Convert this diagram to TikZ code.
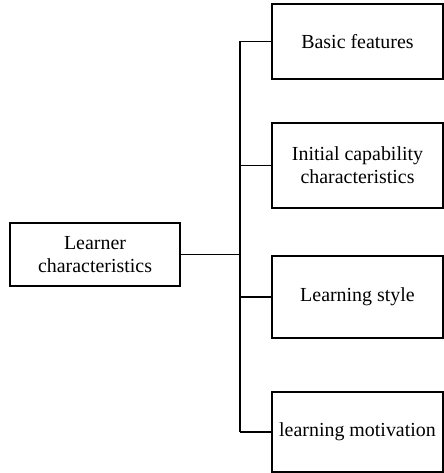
\documentclass[tikz,border=0pt]{standalone}
\usepackage{fontspec}
\setmainfont{Liberation Serif}
\begin{document}
\begin{tikzpicture}[x=1bp,y=-1bp,
  box/.style={draw, line width=1.4bp, align=center, inner sep=0pt,
    font=\fontsize{20}{23}\selectfont, text=black},
  conn/.style={line width=1.4bp}]
\useasboundingbox (0,0) rectangle (444,473);
\node[box, minimum width=170bp, minimum height=63bp] (lc) at (95,254.5) {Learner\\characteristics};
\node[box, minimum width=171bp, minimum height=75bp] (b1) at (357.5,41.5) {Basic features};
\node[box, minimum width=171bp, minimum height=85bp] (b2) at (357.5,165.5) {Initial capability\\characteristics};
\node[box, minimum width=171bp, minimum height=82bp] (b3) at (357.5,297) {Learning style};
\node[box, minimum width=171bp, minimum height=80bp] (b4) at (357.5,432) {learning motivation};
\coordinate (tx) at (240,0);
\draw[conn] (tx |- b1.west) -- (tx |- b4.west);
\draw[conn] (lc.east) -- (lc.east -| tx);
\foreach \b in {b1,b2,b3,b4} \draw[conn] (tx |- \b.west) -- (\b.west);
\end{tikzpicture}
\end{document}
